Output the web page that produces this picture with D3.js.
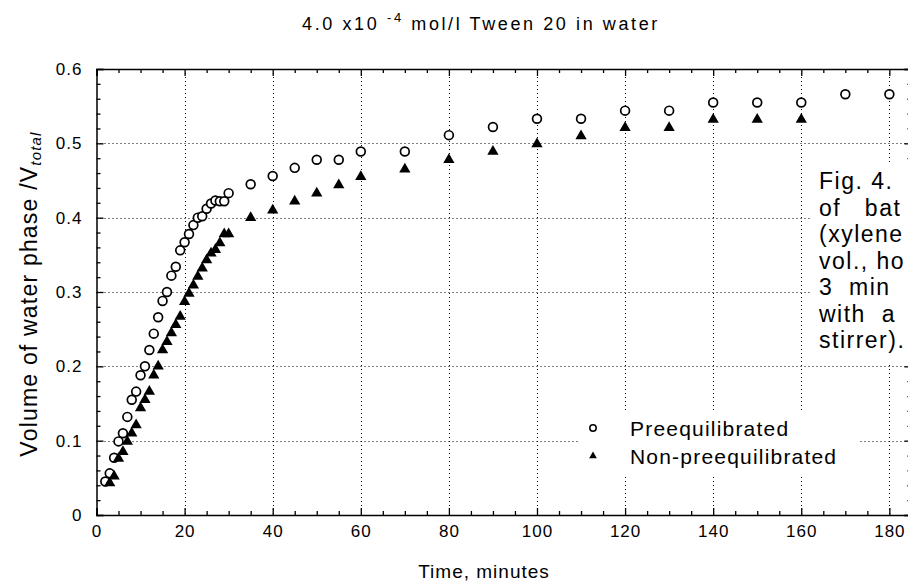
<!DOCTYPE html>
<html>
<head>
<meta charset="utf-8">
<script src="https://cdn.jsdelivr.net/npm/d3@7"></script>
<style>
  html, body { margin: 0; padding: 0; background: #fff; }
  svg { display: block; font-family: "Liberation Sans", Arial, Helvetica, sans-serif; }
</style>
</head>
<body>
<div id="chart"></div>
<script>
// ---- data ----
const preTime = [2,3,4,5,6,7,8,9,10,11,12,13,14,15,16,17,18,19,20,21,22,23,24,25,26,27,28,29,30,35,40,45,50,55,60,70,80,90,100,110,120,130,140,150,160,170,180];
const preVolume = [0.045,0.056,0.077,0.099,0.110,0.132,0.155,0.166,0.188,0.200,0.222,0.244,0.266,0.288,0.300,0.322,0.334,0.356,0.367,0.378,0.390,0.400,0.402,0.412,0.419,0.423,0.422,0.422,0.433,0.445,0.456,0.467,0.478,0.478,0.489,0.489,0.511,0.522,0.533,0.533,0.544,0.544,0.555,0.555,0.555,0.566,0.566];
const nonTime = [3,4,5,6,7,8,9,10,11,12,13,14,15,16,17,18,19,20,21,22,23,24,25,26,27,28,29,30,35,40,45,50,55,60,70,80,90,100,110,120,130,140,150,160];
const nonVolume = [0.043,0.052,0.076,0.085,0.099,0.110,0.121,0.144,0.155,0.166,0.188,0.200,0.222,0.233,0.245,0.256,0.267,0.287,0.298,0.309,0.321,0.332,0.343,0.352,0.357,0.366,0.378,0.378,0.400,0.410,0.422,0.433,0.444,0.455,0.465,0.478,0.489,0.499,0.510,0.521,0.521,0.532,0.532,0.532];
const xTicks = [0,20,40,60,80,100,120,140,160,180];
const yTicks = [0,0.1,0.2,0.3,0.4,0.5,0.6];
const yTickLabels = ["0","0.1","0.2","0.3","0.4","0.5","0.6"];
const seriesNames = ["Preequilibrated","Non-preequilibrated"];
const figTextLines = ["Fig. 4.", "of   bat", "(xylene", "vol., ho", "3  min", "with  a", "stirrer)."];

// ---- layout ----
const W = 908, H = 585;
const pLeft = 96.5, pRight = 911.4, pTop = 69, pBottom = 515;

const svg = d3.select("#chart").append("svg").attr("width", W).attr("height", H);

const x = d3.scaleLinear().domain([0, 185]).range([pLeft, pRight]);
const y = d3.scaleLinear().domain([0, 0.6]).range([pBottom, pTop]);
const crisp = v => Math.round(v) + 0.5;

// gridlines (dotted)
const grid = svg.append("g").attr("stroke", "#000").attr("stroke-width", 1).attr("stroke-dasharray", "1,3");
grid.selectAll("line.gx").data(xTicks.filter(d => d > 0)).enter().append("line")
  .attr("x1", d => crisp(x(d))).attr("x2", d => crisp(x(d))).attr("y1", pTop).attr("y2", pBottom);
grid.selectAll("line.gy").data(yTicks.filter(d => d > 0 && d < 0.6)).enter().append("line")
  .attr("x1", pLeft).attr("x2", pRight).attr("y1", d => crisp(y(d))).attr("y2", d => crisp(y(d)));

// legend backdrop
svg.append("rect").attr("x", 578).attr("y", 410).attr("width", 280).attr("height", 64).attr("fill", "#fff");

// axes: major and minor ticks, inward
const minorX = d3.range(0, 186, 5).filter(d => d % 20 !== 0);
const minorY = d3.range(0, 0.601, 0.02).filter(d => Math.abs(Math.round(d * 10) - d * 10) > 1e-6);

function styleAxis(g) {
  g.select(".domain").attr("stroke", "#000").attr("stroke-width", 1.5);
  g.selectAll(".tick line").attr("stroke", "#000").attr("stroke-width", 1.3);
}
function styleLabels(g) {
  g.selectAll("text").attr("font-size", 17).attr("fill", "#000").attr("letter-spacing", "1px")
    .attr("font-family", "Liberation Sans, Arial, sans-serif");
}

// bottom
svg.append("g").attr("transform", `translate(0,${pBottom})`)
  .call(d3.axisBottom(x).tickValues(xTicks).tickSize(-7).tickPadding(10).tickFormat(d3.format("d")))
  .call(styleAxis).call(styleLabels);
svg.append("g").attr("transform", `translate(0,${pBottom})`)
  .call(d3.axisBottom(x).tickValues(minorX).tickSize(-4).tickFormat(""))
  .call(styleAxis).call(g => g.select(".domain").remove());
// top
svg.append("g").attr("transform", `translate(0,${pTop})`)
  .call(d3.axisTop(x).tickValues(xTicks).tickSize(-7).tickFormat(""))
  .call(styleAxis);
svg.append("g").attr("transform", `translate(0,${pTop})`)
  .call(d3.axisTop(x).tickValues(minorX).tickSize(-4).tickFormat(""))
  .call(styleAxis).call(g => g.select(".domain").remove());
// left
svg.append("g").attr("transform", `translate(${pLeft},0)`)
  .call(d3.axisLeft(y).tickValues(yTicks).tickSize(-7).tickPadding(14).tickFormat((d, i) => yTickLabels[i]))
  .call(styleAxis).call(styleLabels);
svg.append("g").attr("transform", `translate(${pLeft},0)`)
  .call(d3.axisLeft(y).tickValues(minorY).tickSize(-4).tickFormat(""))
  .call(styleAxis).call(g => g.select(".domain").remove());
// right
svg.append("g").attr("transform", `translate(${pRight},0)`)
  .call(d3.axisRight(y).tickValues(yTicks).tickSize(-7).tickFormat(""))
  .call(styleAxis);
svg.append("g").attr("transform", `translate(${pRight},0)`)
  .call(d3.axisRight(y).tickValues(minorY).tickSize(-4).tickFormat(""))
  .call(styleAxis).call(g => g.select(".domain").remove());

// figure-caption overlay backdrop (covers grid and right ticks)
svg.append("rect").attr("x", 812).attr("y", 163).attr("width", 100).attr("height", 200).attr("fill", "#fff");

// data marks
const preData = preTime.map((t, i) => ({ t, v: preVolume[i] }));
const nonData = nonTime.map((t, i) => ({ t, v: nonVolume[i] }));

svg.append("g").selectAll("circle").data(preData).enter().append("circle")
  .attr("cx", d => x(d.t)).attr("cy", d => y(d.v)).attr("r", 4.4)
  .attr("fill", "#fff").attr("stroke", "#000").attr("stroke-width", 1.7);

const tri = d3.symbol().type(d3.symbolTriangle).size(55);
svg.append("g").selectAll("path").data(nonData).enter().append("path")
  .attr("transform", d => `translate(${x(d.t)},${y(d.v)})`).attr("d", tri).attr("fill", "#000");

// legend
const lg = svg.append("g");
lg.append("circle").attr("cx", 593).attr("cy", 428).attr("r", 3.2).attr("fill", "#fff").attr("stroke", "#000").attr("stroke-width", 1.5);
lg.append("path").attr("transform", "translate(593,456)").attr("d", d3.symbol().type(d3.symbolTriangle).size(26)).attr("fill", "#000");
lg.selectAll("text").data(seriesNames).enter().append("text")
  .attr("x", 630).attr("y", (d, i) => 436 + i * 28)
  .attr("font-size", 21).attr("letter-spacing", "1.2px").attr("fill", "#000").text(d => d);

// title
const title = svg.append("text").attr("x", 481).attr("y", 30).attr("text-anchor", "middle")
  .attr("font-size", 18).attr("letter-spacing", "2.6px").attr("fill", "#000");
title.append("tspan").text("4.0 x10 ");
title.append("tspan").attr("font-size", 13).attr("dy", -8).text("-4");
title.append("tspan").attr("dy", 8).text(" mol/l Tween 20 in water");

// axis titles
svg.append("text").attr("x", 484).attr("y", 578).attr("text-anchor", "middle")
  .attr("font-size", 19).attr("letter-spacing", "1px").attr("fill", "#000").text("Time, minutes");

const yt = svg.append("text").attr("transform", "translate(37,294) rotate(-90)").attr("text-anchor", "middle")
  .attr("font-size", 23).attr("letter-spacing", "1.2px").attr("fill", "#000");
yt.append("tspan").text("Volume of water phase /V");
yt.append("tspan").attr("font-size", 15).attr("font-style", "italic").attr("dy", 4).text("total");

// figure caption fragment on the right
svg.append("g").selectAll("text").data(figTextLines).enter().append("text")
  .attr("x", 819).attr("y", (d, i) => 189 + i * 26.5)
  .attr("font-size", 23).attr("letter-spacing", "1.5px").attr("fill", "#000").style("white-space", "pre").text(d => d);
</script>
</body>
</html>
